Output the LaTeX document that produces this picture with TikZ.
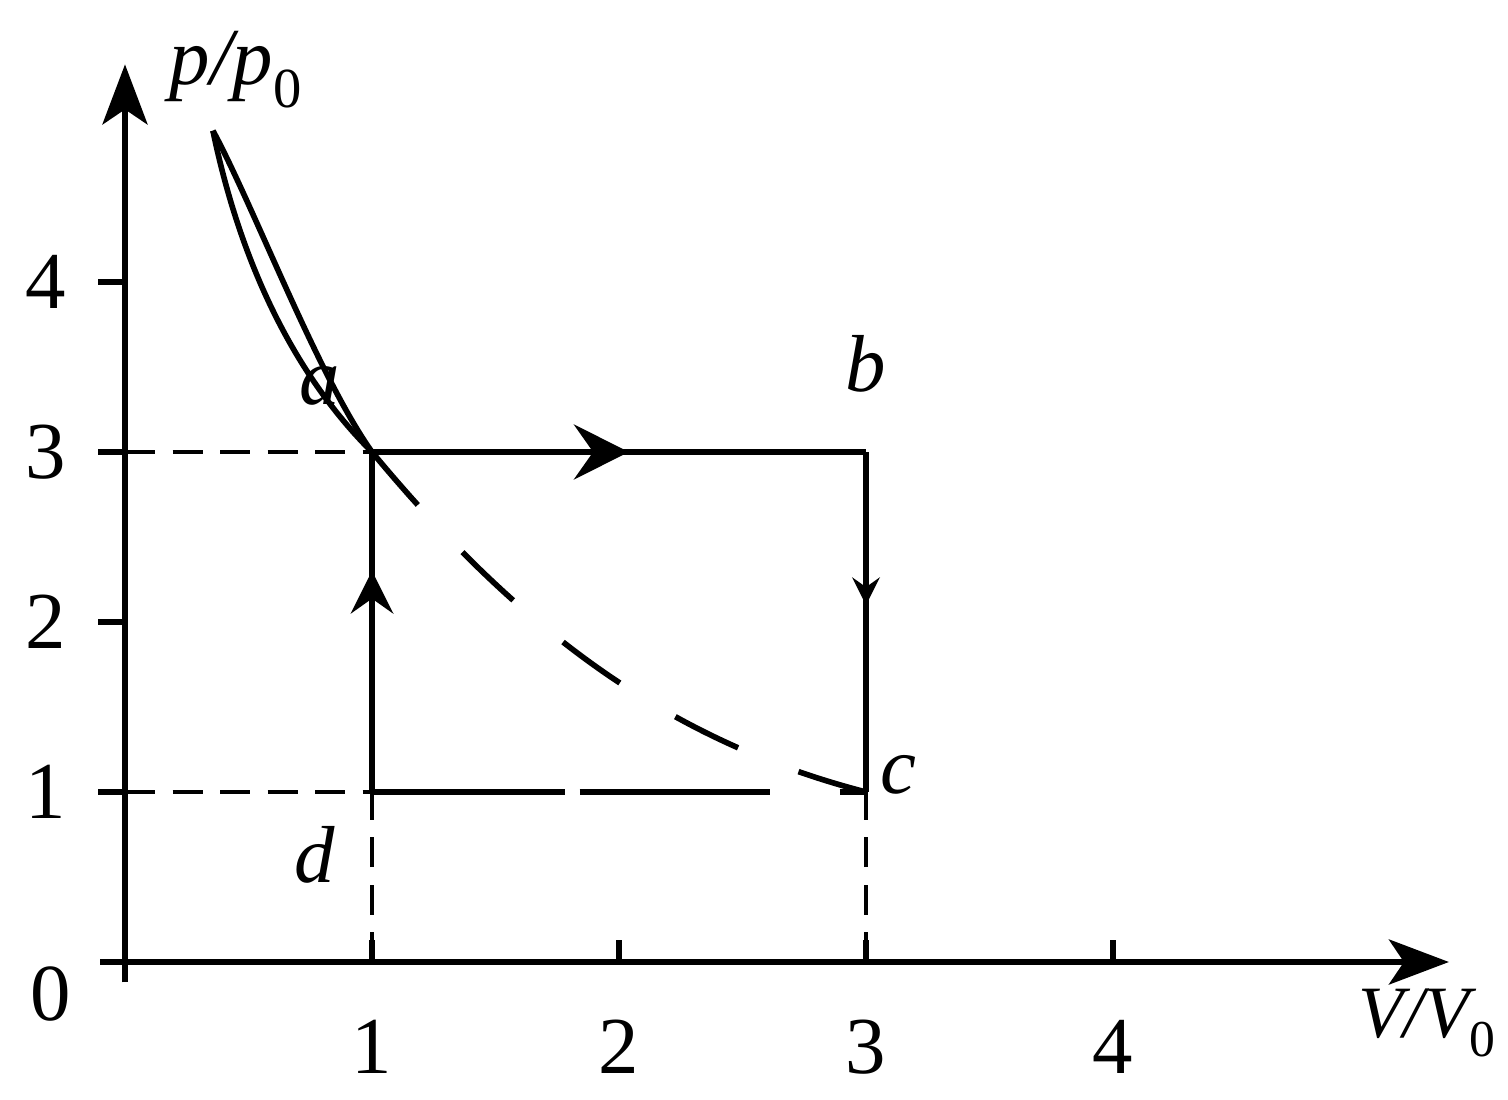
\documentclass[tikz,border=0pt]{standalone}
\usepackage{fontspec}
\setmainfont{Liberation Serif}
\usetikzlibrary{arrows.meta,decorations.markings}
\begin{document}
\begin{tikzpicture}[
  x=4.94cm, y=3.4cm,
  axis/.style={line width=3.4pt, -{Stealth[length=1.2cm,width=0.9cm,inset=0.3cm]}},
  cyc/.style={line width=3.2pt, line join=miter},
  guide/.style={line width=2.6pt, dash pattern=on 0.6cm off 0.35cm},
  iso/.style={line width=3.2pt, dash pattern=on 1.4cm off 1.3cm},
  tck/.style={line width=3pt},
  lbl/.style={font=\fontsize{46}{50}\selectfont, inner sep=1pt},
  sym/.style={font=\fontsize{46}{50}\selectfont\itshape, inner sep=1pt},
  midarr/.style 2 args={postaction={decorate}, decoration={markings,
    mark=at position #1 with {\arrow{Stealth[length=#2,width=#2,inset=0.35*#2]}}}}
]
  \useasboundingbox (-2.5cm,-2.74cm) rectangle (27.66cm,19.24cm);
  %% --- Axes ---
  \coordinate (o) at (0,0);
  \coordinate (xs) at (-0.1,0);
  \coordinate (ys) at (0,-0.12);
  \coordinate (xe) at (5.36,0);
  \coordinate (ye) at (0,5.28);
  \draw[axis] (xs) -- (xe);
  \draw[axis] (ys) -- (ye);
  \node[lbl] (n0) at (-0.30,-0.19) {0};
  \foreach \i in {1,...,4} {
    \draw[tck] (\i,0) -- (\i,0.13);
    \draw[tck] (0,\i) -- (-0.11,\i);
    \node[lbl] (xl\i) at (\i,-0.5) {\i};
    \node[lbl] (yl\i) at (-0.32,\i) {\i};
  }
  \node[sym] (pl) at (0.45,5.25) {p/p\textsubscript{\upshape 0}};
  \node[sym, anchor=east, font=\fontsize{42}{46}\selectfont\itshape] (vl) at (5.56,-0.36) {V/V\textsubscript{\upshape 0}};
  %% --- States ---
  \coordinate (a) at (1,3);
  \coordinate (b) at (3,3);
  \coordinate (c) at (3,1);
  \coordinate (d) at (1,1);
  \coordinate (pa) at (0,3);
  \coordinate (pd) at (0,1);
  \coordinate (va) at (1,0);
  \coordinate (vc) at (3,0);
  \coordinate (top) at (0.356,4.89);
  %% --- Guide lines ---
  \draw[guide] (pa) -- (a);
  \draw[guide] (pd) -- (d);
  \draw[guide] (va) -- (d);
  \draw[guide] (vc) -- (c);
  %% --- Cycle ---
  \draw[cyc, midarr={0.65}{0.85cm}] (d) -- (a);
  \draw[cyc, midarr={0.52}{1.1cm}] (a) -- (b);
  \draw[cyc, midarr={0.45}{0.55cm}] (b) -- (c);
  \draw[cyc, dash pattern=on 3.85cm off 0.3cm on 3.8cm off 1.4cm on 10cm] (d) -- (c);
  \draw[iso] (a) .. controls (1.6,1.95) and (2.2,1.3) .. (c);
  %% --- Curves above a ---
  \draw[cyc] (top) .. controls (0.44,4.3) and (0.62,3.55) .. (a);
  \draw[cyc] (top) .. controls (0.52,4.45) and (0.78,3.45) .. (a);
  %% --- Labels ---
  \node[sym] (la) at (0.79,3.39) {a};
  \node[sym] (lb) at (3.0,3.52) {b};
  \node[sym] (lc) at (3.13,1.1) {c};
  \node[sym] (ld) at (0.77,0.63) {d};
\end{tikzpicture}
\end{document}
